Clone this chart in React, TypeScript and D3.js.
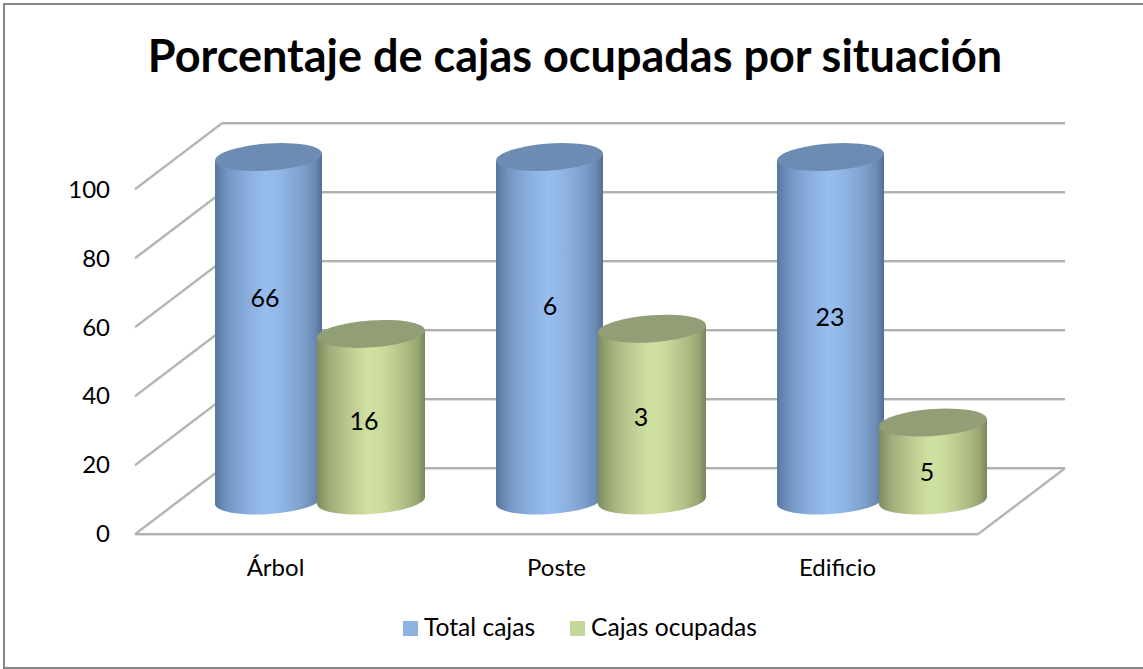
import React, { useEffect, useRef } from 'react';
import * as d3 from 'd3';

const title = 'Porcentaje de cajas ocupadas por situación';
const categories = ['Árbol', 'Poste', 'Edificio'];
const seriesNames = ['Total cajas', 'Cajas ocupadas'];
// heights, labels are the counts printed on the columns
const totalHeights = [100, 100, 100];
const occupiedHeights = [48.5, 50, 22.7];
const totalLabels = ['66', '6', '23'];
const occupiedLabels = ['16', '3', '5'];
const yTicks = [0, 20, 40, 60, 80, 100];

// label nudges from the column centre, the labels in the original are hand placed
const totalNudge = [[-3.5, -31], [0.5, -23], [-0.5, -12]];
const occupiedNudge = [[-7, 4], [-11, 2], [-6, 10]];

const FONT = 'Lato, Carlito, Calibri, sans-serif';

const draw = (node: SVGSVGElement) => {
  const svg = d3.select(node);
  svg.selectAll('*').remove();

  const x = d3.scaleBand<string>().domain(categories).range([135, 978]);
  const y = d3.scaleLinear().domain([0, 100]).range([534, 189]);
  // columns stand in the middle of the floor, so they get their own scale
  const yCol = d3.scaleLinear().domain([0, 100]).range([500.5, 157]);
  const yLabel = d3.scaleLinear().domain([0, 100]).range([542, 198]);
  const depth = { dx: 87, dy: -66 };

  const defs = svg.append('defs');
  const gradient = (id: string, stops: [number, string][]) => {
    const g = defs.append('linearGradient').attr('id', id).attr('x1', 0).attr('x2', 1).attr('y1', 0).attr('y2', 0);
    stops.forEach(([o, c]) => g.append('stop').attr('offset', o).attr('stop-color', c));
  };
  gradient('blue', [[0, '#56779f'], [0.12, '#7596c2'], [0.3, '#89aedd'], [0.48, '#97bef0'], [0.62, '#90b6e6'], [0.82, '#7d9fcb'], [0.93, '#6c8bb4'], [1, '#546f94']]);
  gradient('green', [[0, '#7e8c5e'], [0.12, '#a0ae7b'], [0.3, '#bccb90'], [0.48, '#d0e2a1'], [0.62, '#c9da9b'], [0.82, '#aebd84'], [0.93, '#98a672'], [1, '#79865a']]);

  svg.append('rect')
    .attr('x', 4).attr('y', 4).attr('width', 1160).attr('height', 664)
    .attr('fill', '#fff').attr('stroke', '#868686').attr('stroke-width', 2);

  // walls and floor, drawn twice for the soft shadow under each line
  const lines = (stroke: string, off: number) => {
    const grid = svg.append('g').attr('stroke', stroke).attr('stroke-width', 2).attr('fill', 'none')
      .attr('transform', `translate(0,${off})`);
    yTicks.forEach((t) => {
      grid.append('line')
        .attr('x1', 135).attr('y1', y(t))
        .attr('x2', 135 + depth.dx).attr('y2', y(t) + depth.dy);
      grid.append('line')
        .attr('x1', 135 + depth.dx).attr('y1', y(t) + depth.dy)
        .attr('x2', 978 + depth.dx).attr('y2', y(t) + depth.dy);
    });
    grid.append('line').attr('x1', 135).attr('y1', y(0)).attr('x2', 978).attr('y2', y(0));
    grid.append('line').attr('x1', 978).attr('y1', y(0)).attr('x2', 978 + depth.dx).attr('y2', y(0) + depth.dy);
  };
  lines('#dedede', 1);
  lines('#b0b0b0', 0);

  // tilted cylinder: body and cap
  const cylinder = (left: number, w: number, value: number, body: string, cap: string) => {
    const rx = w / 2;
    const ry = 13.5;
    const tilt = -4;
    const lean = rx * Math.sin((-tilt * Math.PI) / 180);
    const top = yCol(value);
    const bottom = yCol(0);
    const g = svg.append('g');
    g.append('path')
      .attr('d', `M${left},${top + lean} L${left},${bottom + lean} A${rx},${ry} ${tilt} 0 0 ${left + w},${bottom - lean} L${left + w},${top - lean} Z`)
      .attr('fill', `url(#${body})`);
    g.append('ellipse')
      .attr('cx', left + rx).attr('cy', top)
      .attr('rx', rx).attr('ry', ry)
      .attr('transform', `rotate(${tilt} ${left + rx} ${top})`)
      .attr('fill', cap);
  };

  categories.forEach((c, i) => {
    const start = x(c) as number;
    cylinder(start + 80, 107, totalHeights[i], 'blue', '#6d8cb3');
  });
  categories.forEach((c, i) => {
    const start = x(c) as number;
    cylinder(start + 182, 108, occupiedHeights[i], 'green', '#929f76');
  });

  const text = (tx: number, ty: number, s: string, size: number, anchor = 'middle', weight = 'normal') =>
    svg.append('text')
      .attr('x', tx).attr('y', ty)
      .attr('text-anchor', anchor)
      .attr('font-family', FONT)
      .attr('font-size', size)
      .attr('font-weight', weight)
      .attr('fill', '#000')
      .text(s);

  categories.forEach((c, i) => {
    const start = x(c) as number;
    const band = x.bandwidth();
    text(start + band / 2, 576, c, 24);
    const totalMid = (yCol(totalHeights[i]) + yCol(0)) / 2;
    const occupiedMid = (yCol(occupiedHeights[i]) + yCol(0)) / 2;
    text(start + 133.5 + totalNudge[i][0], totalMid + 9 + totalNudge[i][1], totalLabels[i], 25);
    text(start + 236 + occupiedNudge[i][0], occupiedMid + 9 + occupiedNudge[i][1], occupiedLabels[i], 25);
  });

  yTicks.forEach((t) => text(110, yLabel(t), String(t), 24, 'end'));

  text(575, 72, title, 45, 'middle', 'bold');

  // legend
  const legendX = [403, 570];
  const colors = ['#8db3e2', '#c4d79b'];
  seriesNames.forEach((s, i) => {
    svg.append('rect').attr('x', legendX[i]).attr('y', 621).attr('width', 15).attr('height', 15).attr('fill', colors[i]);
    text(legendX[i] + 21, 636, s, 24.6, 'start');
  });
};

export default function App() {
  const ref = useRef<SVGSVGElement>(null);
  useEffect(() => {
    if (ref.current) draw(ref.current);
  }, []);
  return <svg ref={ref} width={1143} height={669} style={{ position: 'absolute', left: 0, top: 0 }} />;
}
